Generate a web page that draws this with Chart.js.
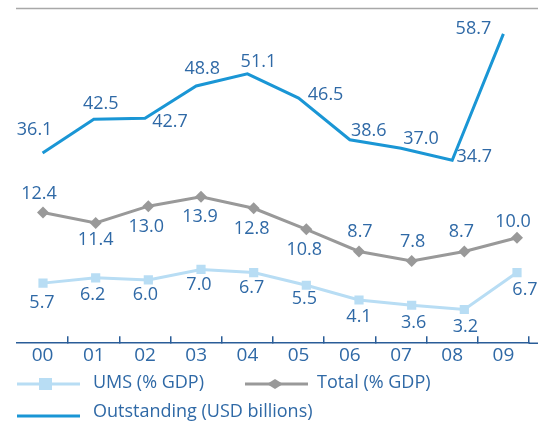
<!DOCTYPE html>
<html>
<head>
<meta charset="utf-8">
<script src="https://cdn.jsdelivr.net/npm/chart.js@4/dist/chart.umd.min.js"></script>
<style>
  html, body { margin: 0; padding: 0; background: #ffffff; }
  #wrap { width: 538px; height: 423px; position: relative; overflow: hidden; }
  canvas { display: block; }
</style>
</head>
<body>
<div id="wrap"><canvas id="c" width="538" height="423"></canvas></div>
<script>
// ---- data ----
const years = ['00', '01', '02', '03', '04', '05', '06', '07', '08', '09'];
const outstandingUsd = [36.1, 42.5, 42.7, 48.8, 51.1, 46.5, 38.6, 37.0, 34.7, 58.7];
const totalGdp = [12.4, 11.4, 13.0, 13.9, 12.8, 10.8, 8.7, 7.8, 8.7, 10.0];
const umsGdp = [5.7, 6.2, 6.0, 7.0, 6.7, 5.5, 4.1, 3.6, 3.2, 6.7];
const seriesNames = ['UMS (% GDP)', 'Total (% GDP)', 'Outstanding (USD billions)'];

// ---- styling / label placement (not data) ----
const COL_OUT = '#1a96d5';
const COL_TOTAL = '#999999';
const COL_UMS = '#b8ddf4';
const COL_TEXT = '#2f69a6';
const COL_AXIS = '#2a5d98';
const FONT = '"Open Sans", "DejaVu Sans", sans-serif';

const outLabelOffset = [[-8,-23],[7,-15],[25,4],[6,-17],[11,-12],[27,-3],[19,-9],[20,-9],[22,-3],[-30,-5]];
const totalLabelOffset = [[-4,-19],[0,17],[-2,21],[-1,20],[-2,21],[-2,21],[1,-20],[1,-19],[-3,-20],[-4,-16]];
const umsLabelOffset = [[-1,20],[-3,17],[-3,15],[-2,15],[-2,15],[-2,14],[0,17],[2,18],[1,17],[8,17]];

const pointLabels = {
  id: 'pointLabels',
  afterDatasetsDraw(chart) {
    const ctx = chart.ctx;
    ctx.save();
    ctx.font = '18px ' + FONT;
    ctx.fillStyle = COL_TEXT;
    ctx.textAlign = 'center';
    ctx.textBaseline = 'middle';
    chart.data.datasets.forEach((ds, di) => {
      const meta = chart.getDatasetMeta(di);
      meta.data.forEach((pt, i) => {
        const [dx, dy] = ds.labelOffset[i];
        ctx.fillText(ds.values[i].toFixed(1), pt.x + dx, pt.y + dy);
      });
    });
    ctx.restore();
  }
};

const decorations = {
  id: 'decorations',
  afterDraw(chart) {
    const ctx = chart.ctx;
    const xs = chart.scales.x;
    ctx.save();
    // top rule
    ctx.strokeStyle = '#a8a8a8';
    ctx.lineWidth = 1.5;
    ctx.beginPath(); ctx.moveTo(16, 8.5); ctx.lineTo(538, 8.5); ctx.stroke();
    // extend x axis line to the edge
    ctx.strokeStyle = COL_AXIS;
    ctx.lineWidth = 1.5;
    const yb = Math.round(xs.top) + 0.25;
    ctx.beginPath(); ctx.moveTo(xs.right, yb); ctx.lineTo(538, yb); ctx.stroke();

    // legend
    ctx.font = '18px ' + FONT;
    ctx.fillStyle = COL_TEXT;
    ctx.textAlign = 'left';
    ctx.textBaseline = 'middle';
    // UMS
    ctx.strokeStyle = COL_UMS; ctx.lineWidth = 3;
    ctx.beginPath(); ctx.moveTo(17, 384); ctx.lineTo(80, 384); ctx.stroke();
    ctx.fillStyle = COL_UMS;
    ctx.fillRect(39, 378, 13, 12);
    ctx.fillStyle = COL_TEXT;
    ctx.fillText(seriesNames[0], 93, 383);
    // Total
    ctx.strokeStyle = COL_TOTAL; ctx.lineWidth = 3;
    ctx.beginPath(); ctx.moveTo(245, 384); ctx.lineTo(308, 384); ctx.stroke();
    ctx.fillStyle = COL_TOTAL;
    ctx.beginPath();
    ctx.moveTo(267, 384); ctx.lineTo(275, 379); ctx.lineTo(283, 384); ctx.lineTo(275, 389); ctx.closePath(); ctx.fill();
    ctx.fillStyle = COL_TEXT;
    ctx.fillText(seriesNames[1], 317, 383);
    // Outstanding
    ctx.strokeStyle = COL_OUT; ctx.lineWidth = 3;
    ctx.beginPath(); ctx.moveTo(17, 416); ctx.lineTo(80, 416); ctx.stroke();
    ctx.fillText(seriesNames[2], 93, 412);
    ctx.restore();
  }
};

new Chart(document.getElementById('c'), {
  type: 'line',
  data: {
    labels: years,
    datasets: [
      {
        label: seriesNames[2],
        values: outstandingUsd,
        labelOffset: outLabelOffset,
        data: outstandingUsd,
        xAxisID: 'x',
        yAxisID: 'yUsd',
        borderColor: COL_OUT,
        borderWidth: 3,
        pointRadius: 0,
        tension: 0,
        fill: false
      },
      {
        label: seriesNames[1],
        values: totalGdp,
        labelOffset: totalLabelOffset,
        data: totalGdp.map((v, i) => ({ x: i, y: v })),
        xAxisID: 'x2',
        yAxisID: 'yPct',
        borderColor: COL_TOTAL,
        backgroundColor: COL_TOTAL,
        borderWidth: 3,
        pointStyle: 'rectRot',
        pointRadius: 6,
        pointBorderWidth: 0,
        tension: 0,
        fill: false
      },
      {
        label: seriesNames[0],
        values: umsGdp,
        labelOffset: umsLabelOffset,
        data: umsGdp.map((v, i) => ({ x: i, y: v })),
        xAxisID: 'x2',
        yAxisID: 'yPct',
        borderColor: COL_UMS,
        backgroundColor: COL_UMS,
        borderWidth: 3,
        pointStyle: 'rect',
        pointRadius: 6.5,
        pointBorderWidth: 0,
        tension: 0,
        fill: false
      }
    ]
  },
  options: {
    responsive: false,
    animation: false,
    layout: { padding: { left: 17, right: 9, top: 27, bottom: 48 } },
    plugins: {
      legend: { display: false },
      tooltip: { enabled: false },
      title: { display: false }
    },
    scales: {
      x: {
        type: 'category',
        offset: true,
        position: 'bottom',
        border: { display: true, color: COL_AXIS, width: 1.5 },
        grid: {
          offset: true,
          drawOnChartArea: false,
          drawTicks: true,
          tickLength: -7,
          lineWidth: 1.5,
          color: (c) => (c.index === 0 || c.index === years.length) ? 'rgba(0,0,0,0)' : COL_AXIS
        },
        ticks: {
          color: COL_TEXT,
          font: { family: FONT, size: 19 },
          padding: 8,
          maxRotation: 0,
          autoSkip: false
        }
      },
      x2: {
        type: 'linear',
        display: false,
        min: -0.4937,
        max: 9.2278
      },
      yPct: { type: 'linear', display: false, min: 0, max: 30 },
      yUsd: { type: 'linear', display: false, min: 0, max: 60 }
    }
  },
  plugins: [pointLabels, decorations]
});
</script>
</body>
</html>
